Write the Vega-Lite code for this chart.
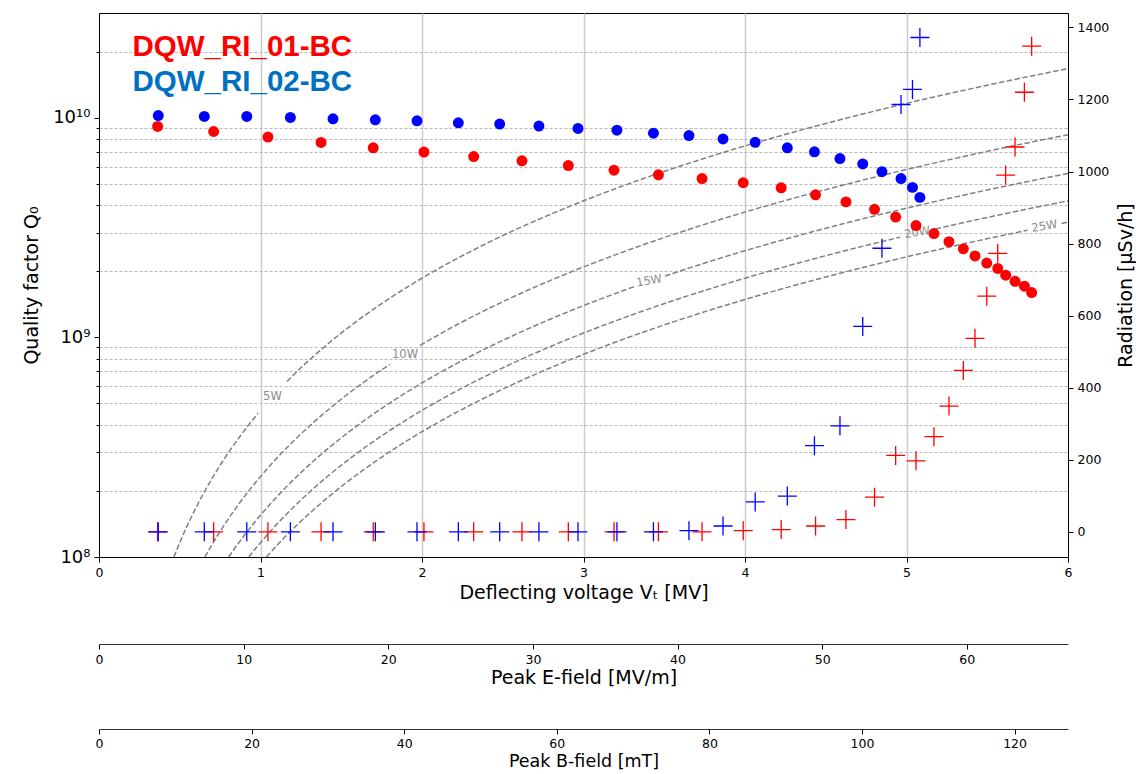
{
  "$schema": "https://vega.github.io/schema/vega-lite/v6.json",
  "width": 969,
  "height": 544,
  "autosize": {"type": "none"},
  "padding": {"left": 99, "top": 13, "right": 68, "bottom": 217},
  "background": "white",
  "config": {
    "view": {"stroke": "#000000", "strokeWidth": 1},
    "font": "DejaVu Sans",
    "axis": {
      "domainColor": "#000000", "tickColor": "#000000", "labelColor": "#000000", "titleColor": "#000000",
      "labelFont": "DejaVu Sans", "titleFont": "DejaVu Sans", "titleFontWeight": "normal",
      "labelFontSize": 12.5, "titleFontSize": 19, "tickSize": 5, "labelPadding": 4, "labelFlush": false
    }
  },
  "datasets": {
    "meas": [
      {"sample": "DQW_RI_01-BC", "V": 0.363, "Q": 9.13e9, "R": 0},
      {"sample": "DQW_RI_01-BC", "V": 0.710, "Q": 8.66e9, "R": 0},
      {"sample": "DQW_RI_01-BC", "V": 1.046, "Q": 8.17e9, "R": 0},
      {"sample": "DQW_RI_01-BC", "V": 1.375, "Q": 7.72e9, "R": 0},
      {"sample": "DQW_RI_01-BC", "V": 1.698, "Q": 7.30e9, "R": 0},
      {"sample": "DQW_RI_01-BC", "V": 2.012, "Q": 6.98e9, "R": 0},
      {"sample": "DQW_RI_01-BC", "V": 2.320, "Q": 6.66e9, "R": 0},
      {"sample": "DQW_RI_01-BC", "V": 2.619, "Q": 6.37e9, "R": 0},
      {"sample": "DQW_RI_01-BC", "V": 2.906, "Q": 6.06e9, "R": 0},
      {"sample": "DQW_RI_01-BC", "V": 3.189, "Q": 5.77e9, "R": 0},
      {"sample": "DQW_RI_01-BC", "V": 3.464, "Q": 5.50e9, "R": 0},
      {"sample": "DQW_RI_01-BC", "V": 3.734, "Q": 5.29e9, "R": 0},
      {"sample": "DQW_RI_01-BC", "V": 3.989, "Q": 5.06e9, "R": 3},
      {"sample": "DQW_RI_01-BC", "V": 4.224, "Q": 4.80e9, "R": 6},
      {"sample": "DQW_RI_01-BC", "V": 4.437, "Q": 4.46e9, "R": 16},
      {"sample": "DQW_RI_01-BC", "V": 4.625, "Q": 4.14e9, "R": 34},
      {"sample": "DQW_RI_01-BC", "V": 4.802, "Q": 3.83e9, "R": 96},
      {"sample": "DQW_RI_01-BC", "V": 4.933, "Q": 3.53e9, "R": 212},
      {"sample": "DQW_RI_01-BC", "V": 5.059, "Q": 3.23e9, "R": 197},
      {"sample": "DQW_RI_01-BC", "V": 5.170, "Q": 2.97e9, "R": 264},
      {"sample": "DQW_RI_01-BC", "V": 5.263, "Q": 2.73e9, "R": 349},
      {"sample": "DQW_RI_01-BC", "V": 5.352, "Q": 2.53e9, "R": 448},
      {"sample": "DQW_RI_01-BC", "V": 5.424, "Q": 2.35e9, "R": 537},
      {"sample": "DQW_RI_01-BC", "V": 5.497, "Q": 2.18e9, "R": 654},
      {"sample": "DQW_RI_01-BC", "V": 5.565, "Q": 2.06e9, "R": 773},
      {"sample": "DQW_RI_01-BC", "V": 5.614, "Q": 1.92e9, "R": 990},
      {"sample": "DQW_RI_01-BC", "V": 5.672, "Q": 1.80e9, "R": 1068},
      {"sample": "DQW_RI_01-BC", "V": 5.730, "Q": 1.71e9, "R": 1220},
      {"sample": "DQW_RI_01-BC", "V": 5.775, "Q": 1.60e9, "R": 1348},
      {"sample": "DQW_RI_02-BC", "V": 0.367, "Q": 1.024e10, "R": 0},
      {"sample": "DQW_RI_02-BC", "V": 0.652, "Q": 1.014e10, "R": 0},
      {"sample": "DQW_RI_02-BC", "V": 0.915, "Q": 1.014e10, "R": 0},
      {"sample": "DQW_RI_02-BC", "V": 1.185, "Q": 1.003e10, "R": 0},
      {"sample": "DQW_RI_02-BC", "V": 1.449, "Q": 9.89e9, "R": 0},
      {"sample": "DQW_RI_02-BC", "V": 1.711, "Q": 9.79e9, "R": 0},
      {"sample": "DQW_RI_02-BC", "V": 1.969, "Q": 9.69e9, "R": 0},
      {"sample": "DQW_RI_02-BC", "V": 2.225, "Q": 9.49e9, "R": 0},
      {"sample": "DQW_RI_02-BC", "V": 2.481, "Q": 9.36e9, "R": 0},
      {"sample": "DQW_RI_02-BC", "V": 2.724, "Q": 9.17e9, "R": 0},
      {"sample": "DQW_RI_02-BC", "V": 2.966, "Q": 8.94e9, "R": 0},
      {"sample": "DQW_RI_02-BC", "V": 3.207, "Q": 8.78e9, "R": 0},
      {"sample": "DQW_RI_02-BC", "V": 3.433, "Q": 8.51e9, "R": 0},
      {"sample": "DQW_RI_02-BC", "V": 3.653, "Q": 8.30e9, "R": 3},
      {"sample": "DQW_RI_02-BC", "V": 3.864, "Q": 8.01e9, "R": 16},
      {"sample": "DQW_RI_02-BC", "V": 4.063, "Q": 7.73e9, "R": 83},
      {"sample": "DQW_RI_02-BC", "V": 4.262, "Q": 7.30e9, "R": 99},
      {"sample": "DQW_RI_02-BC", "V": 4.430, "Q": 7.00e9, "R": 239},
      {"sample": "DQW_RI_02-BC", "V": 4.588, "Q": 6.52e9, "R": 294},
      {"sample": "DQW_RI_02-BC", "V": 4.729, "Q": 6.16e9, "R": 570},
      {"sample": "DQW_RI_02-BC", "V": 4.848, "Q": 5.68e9, "R": 787},
      {"sample": "DQW_RI_02-BC", "V": 4.966, "Q": 5.29e9, "R": 1186},
      {"sample": "DQW_RI_02-BC", "V": 5.037, "Q": 4.82e9, "R": 1228},
      {"sample": "DQW_RI_02-BC", "V": 5.083, "Q": 4.34e9, "R": 1372}
    ],
    "curves": [
      {"P": "5W", "seg": "5W-a", "V": 0.4637, "Q": 1.0e8},
      {"P": "5W", "seg": "5W-a", "V": 0.48, "Q": 1.0716e8},
      {"P": "5W", "seg": "5W-a", "V": 0.5, "Q": 1.1628e8},
      {"P": "5W", "seg": "5W-a", "V": 0.53, "Q": 1.3065e8},
      {"P": "5W", "seg": "5W-a", "V": 0.56, "Q": 1.4586e8},
      {"P": "5W", "seg": "5W-a", "V": 0.6, "Q": 1.6744e8},
      {"P": "5W", "seg": "5W-a", "V": 0.65, "Q": 1.9651e8},
      {"P": "5W", "seg": "5W-a", "V": 0.7, "Q": 2.2791e8},
      {"P": "5W", "seg": "5W-a", "V": 0.75, "Q": 2.6163e8},
      {"P": "5W", "seg": "5W-a", "V": 0.8, "Q": 2.9768e8},
      {"P": "5W", "seg": "5W-a", "V": 0.87, "Q": 3.5205e8},
      {"P": "5W", "seg": "5W-a", "V": 0.93, "Q": 4.0228e8},
      {"P": "5W", "seg": "5W-a", "V": 0.985, "Q": 4.5127e8},
      {"P": "5W", "seg": "5W-b", "V": 1.164, "Q": 6.3019e8},
      {"P": "5W", "seg": "5W-b", "V": 1.25, "Q": 7.2675e8},
      {"P": "5W", "seg": "5W-b", "V": 1.35, "Q": 8.4768e8},
      {"P": "5W", "seg": "5W-b", "V": 1.5, "Q": 1.0465e9},
      {"P": "5W", "seg": "5W-b", "V": 1.7, "Q": 1.3442e9},
      {"P": "5W", "seg": "5W-b", "V": 2.0, "Q": 1.8605e9},
      {"P": "5W", "seg": "5W-b", "V": 2.4, "Q": 2.6791e9},
      {"P": "5W", "seg": "5W-b", "V": 2.8, "Q": 3.6465e9},
      {"P": "5W", "seg": "5W-b", "V": 3.3, "Q": 5.0652e9},
      {"P": "5W", "seg": "5W-b", "V": 3.8, "Q": 6.7163e9},
      {"P": "5W", "seg": "5W-b", "V": 4.4, "Q": 9.0047e9},
      {"P": "5W", "seg": "5W-b", "V": 5.0, "Q": 1.1628e10},
      {"P": "5W", "seg": "5W-b", "V": 5.5, "Q": 1.4070e10},
      {"P": "5W", "seg": "5W-b", "V": 6.0, "Q": 1.6744e10},
      {"P": "10W", "seg": "10W-a", "V": 0.6557, "Q": 1.0e8},
      {"P": "10W", "seg": "10W-a", "V": 0.68, "Q": 1.0754e8},
      {"P": "10W", "seg": "10W-a", "V": 0.71, "Q": 1.1723e8},
      {"P": "10W", "seg": "10W-a", "V": 0.75, "Q": 1.3082e8},
      {"P": "10W", "seg": "10W-a", "V": 0.8, "Q": 1.4884e8},
      {"P": "10W", "seg": "10W-a", "V": 0.86, "Q": 1.72e8},
      {"P": "10W", "seg": "10W-a", "V": 0.93, "Q": 2.0114e8},
      {"P": "10W", "seg": "10W-a", "V": 1.0, "Q": 2.3256e8},
      {"P": "10W", "seg": "10W-a", "V": 1.1, "Q": 2.814e8},
      {"P": "10W", "seg": "10W-a", "V": 1.2, "Q": 3.3489e8},
      {"P": "10W", "seg": "10W-a", "V": 1.32, "Q": 4.0521e8},
      {"P": "10W", "seg": "10W-a", "V": 1.45, "Q": 4.8896e8},
      {"P": "10W", "seg": "10W-a", "V": 1.6, "Q": 5.9535e8},
      {"P": "10W", "seg": "10W-a", "V": 1.8, "Q": 7.5349e8},
      {"P": "10W", "seg": "10W-b", "V": 1.988, "Q": 9.1911e8},
      {"P": "10W", "seg": "10W-b", "V": 2.2, "Q": 1.1256e9},
      {"P": "10W", "seg": "10W-b", "V": 2.5, "Q": 1.4535e9},
      {"P": "10W", "seg": "10W-b", "V": 2.8, "Q": 1.8233e9},
      {"P": "10W", "seg": "10W-b", "V": 3.2, "Q": 2.3814e9},
      {"P": "10W", "seg": "10W-b", "V": 3.6, "Q": 3.014e9},
      {"P": "10W", "seg": "10W-b", "V": 4.0, "Q": 3.721e9},
      {"P": "10W", "seg": "10W-b", "V": 4.5, "Q": 4.7093e9},
      {"P": "10W", "seg": "10W-b", "V": 5.0, "Q": 5.814e9},
      {"P": "10W", "seg": "10W-b", "V": 5.5, "Q": 7.0349e9},
      {"P": "10W", "seg": "10W-b", "V": 6.0, "Q": 8.3722e9},
      {"P": "15W", "seg": "15W-a", "V": 0.8031, "Q": 1.0e8},
      {"P": "15W", "seg": "15W-a", "V": 0.83, "Q": 1.0681e8},
      {"P": "15W", "seg": "15W-a", "V": 0.86, "Q": 1.1467e8},
      {"P": "15W", "seg": "15W-a", "V": 0.9, "Q": 1.2558e8},
      {"P": "15W", "seg": "15W-a", "V": 0.95, "Q": 1.3992e8},
      {"P": "15W", "seg": "15W-a", "V": 1.0, "Q": 1.5504e8},
      {"P": "15W", "seg": "15W-a", "V": 1.07, "Q": 1.7751e8},
      {"P": "15W", "seg": "15W-a", "V": 1.15, "Q": 2.0504e8},
      {"P": "15W", "seg": "15W-a", "V": 1.25, "Q": 2.4225e8},
      {"P": "15W", "seg": "15W-a", "V": 1.37, "Q": 2.9099e8},
      {"P": "15W", "seg": "15W-a", "V": 1.5, "Q": 3.4884e8},
      {"P": "15W", "seg": "15W-a", "V": 1.7, "Q": 4.4807e8},
      {"P": "15W", "seg": "15W-a", "V": 1.9, "Q": 5.5969e8},
      {"P": "15W", "seg": "15W-a", "V": 2.15, "Q": 7.1667e8},
      {"P": "15W", "seg": "15W-a", "V": 2.45, "Q": 9.3063e8},
      {"P": "15W", "seg": "15W-a", "V": 2.8, "Q": 1.2155e9},
      {"P": "15W", "seg": "15W-a", "V": 3.1, "Q": 1.4899e9},
      {"P": "15W", "seg": "15W-a", "V": 3.319, "Q": 1.7079e9},
      {"P": "15W", "seg": "15W-b", "V": 3.505, "Q": 1.9047e9},
      {"P": "15W", "seg": "15W-b", "V": 3.8, "Q": 2.2388e9},
      {"P": "15W", "seg": "15W-b", "V": 4.2, "Q": 2.7349e9},
      {"P": "15W", "seg": "15W-b", "V": 4.6, "Q": 3.2807e9},
      {"P": "15W", "seg": "15W-b", "V": 5.0, "Q": 3.876e9},
      {"P": "15W", "seg": "15W-b", "V": 5.5, "Q": 4.69e9},
      {"P": "15W", "seg": "15W-b", "V": 6.0, "Q": 5.5814e9},
      {"P": "20W", "seg": "20W-a", "V": 0.9274, "Q": 1.0e8},
      {"P": "20W", "seg": "20W-a", "V": 0.95, "Q": 1.0494e8},
      {"P": "20W", "seg": "20W-a", "V": 0.98, "Q": 1.1168e8},
      {"P": "20W", "seg": "20W-a", "V": 1.02, "Q": 1.2098e8},
      {"P": "20W", "seg": "20W-a", "V": 1.07, "Q": 1.3313e8},
      {"P": "20W", "seg": "20W-a", "V": 1.13, "Q": 1.4848e8},
      {"P": "20W", "seg": "20W-a", "V": 1.2, "Q": 1.6744e8},
      {"P": "20W", "seg": "20W-a", "V": 1.3, "Q": 1.9651e8},
      {"P": "20W", "seg": "20W-a", "V": 1.42, "Q": 2.3447e8},
      {"P": "20W", "seg": "20W-a", "V": 1.55, "Q": 2.7936e8},
      {"P": "20W", "seg": "20W-a", "V": 1.7, "Q": 3.3605e8},
      {"P": "20W", "seg": "20W-a", "V": 1.9, "Q": 4.1977e8},
      {"P": "20W", "seg": "20W-a", "V": 2.15, "Q": 5.375e8},
      {"P": "20W", "seg": "20W-a", "V": 2.45, "Q": 6.9797e8},
      {"P": "20W", "seg": "20W-a", "V": 2.8, "Q": 9.1164e8},
      {"P": "20W", "seg": "20W-a", "V": 3.2, "Q": 1.1907e9},
      {"P": "20W", "seg": "20W-a", "V": 3.6, "Q": 1.507e9},
      {"P": "20W", "seg": "20W-a", "V": 4.0, "Q": 1.8605e9},
      {"P": "20W", "seg": "20W-a", "V": 4.45, "Q": 2.3026e9},
      {"P": "20W", "seg": "20W-a", "V": 4.96, "Q": 2.8607e9},
      {"P": "20W", "seg": "20W-b", "V": 5.18, "Q": 3.1201e9},
      {"P": "20W", "seg": "20W-b", "V": 5.5, "Q": 3.5175e9},
      {"P": "20W", "seg": "20W-b", "V": 6.0, "Q": 4.1861e9},
      {"P": "25W", "seg": "25W-a", "V": 1.0368, "Q": 1.0e8},
      {"P": "25W", "seg": "25W-a", "V": 1.06, "Q": 1.0452e8},
      {"P": "25W", "seg": "25W-a", "V": 1.09, "Q": 1.1052e8},
      {"P": "25W", "seg": "25W-a", "V": 1.13, "Q": 1.1878e8},
      {"P": "25W", "seg": "25W-a", "V": 1.18, "Q": 1.2953e8},
      {"P": "25W", "seg": "25W-a", "V": 1.24, "Q": 1.4303e8},
      {"P": "25W", "seg": "25W-a", "V": 1.32, "Q": 1.6209e8},
      {"P": "25W", "seg": "25W-a", "V": 1.42, "Q": 1.8757e8},
      {"P": "25W", "seg": "25W-a", "V": 1.55, "Q": 2.2349e8},
      {"P": "25W", "seg": "25W-a", "V": 1.7, "Q": 2.6884e8},
      {"P": "25W", "seg": "25W-a", "V": 1.9, "Q": 3.3582e8},
      {"P": "25W", "seg": "25W-a", "V": 2.15, "Q": 4.3e8},
      {"P": "25W", "seg": "25W-a", "V": 2.45, "Q": 5.5838e8},
      {"P": "25W", "seg": "25W-a", "V": 2.8, "Q": 7.2931e8},
      {"P": "25W", "seg": "25W-a", "V": 3.2, "Q": 9.5257e8},
      {"P": "25W", "seg": "25W-a", "V": 3.6, "Q": 1.2056e9},
      {"P": "25W", "seg": "25W-a", "V": 4.0, "Q": 1.4884e9},
      {"P": "25W", "seg": "25W-a", "V": 4.5, "Q": 1.8837e9},
      {"P": "25W", "seg": "25W-a", "V": 5.0, "Q": 2.3256e9},
      {"P": "25W", "seg": "25W-a", "V": 5.4, "Q": 2.7126e9},
      {"P": "25W", "seg": "25W-a", "V": 5.75, "Q": 3.0756e9},
      {"P": "25W", "seg": "25W-b", "V": 5.96, "Q": 3.3044e9},
      {"P": "25W", "seg": "25W-b", "V": 6.0, "Q": 3.3489e9}
    ],
    "clabels": [
      {"P": "5W", "V": 1.074, "Q": 5.365e8},
      {"P": "10W", "V": 1.895, "Q": 8.351e8},
      {"P": "15W", "V": 3.407, "Q": 1.7997e9},
      {"P": "20W", "V": 5.067, "Q": 2.9855e9},
      {"P": "25W", "V": 5.855, "Q": 3.189e9}
    ],
    "ef": [{"E": 0}, {"E": 67}],
    "bf": [{"B": 0}, {"B": 127}]
  },
  "resolve": {"scale": {"x": "independent", "y": "independent"}},
  "layer": [
    {
      "encoding": {
        "x": {
          "field": "V", "type": "quantitative", "title": "Deflecting voltage Vₜ [MV]",
          "scale": {"domain": [0, 6], "nice": false, "zero": false},
          "axis": {
            "values": [0, 1, 2, 3, 4, 5, 6], "grid": true, "gridColor": "#cccccc", "gridWidth": 1.5,
            "gridOpacity": {"condition": {"test": "datum.value == 0 || datum.value == 6", "value": 0}, "value": 1},
            "titlePadding": 5
          }
        }
      },
      "resolve": {"scale": {"y": "independent"}},
      "layer": [
        {
          "encoding": {
            "y": {
              "field": "Q", "type": "quantitative", "title": "Quality factor Q₀",
              "scale": {"type": "log", "domain": [1e8, 3e10], "nice": false},
              "axis": {
                "values": [1e8, 2e8, 3e8, 4e8, 5e8, 6e8, 7e8, 8e8, 9e8, 1e9, 2e9, 3e9, 4e9, 5e9, 6e9, 7e9, 8e9, 9e9, 1e10, 2e10],
                "labelExpr": "datum.value == 1e8 ? '10⁸' : datum.value == 1e9 ? '10⁹' : datum.value == 1e10 ? '10¹⁰' : ''",
                "labelFontSize": 18, "labelOverlap": false,
                "grid": true, "gridDash": [3, 2], "gridColor": "#b8b8b8", "gridWidth": 1,
                "gridOpacity": {"condition": {"test": "datum.value == 1e8 || datum.value == 1e9 || datum.value == 1e10", "value": 0}, "value": 1},
                "tickSize": {"condition": {"test": "datum.value == 1e8 || datum.value == 1e9 || datum.value == 1e10", "value": 5}, "value": 3},
                "titlePadding": 11
              }
            }
          },
          "layer": [
            {
              "data": {"name": "curves"},
              "mark": {"type": "line", "color": "#808080", "strokeWidth": 1.5, "strokeDash": [5.5, 2.4], "interpolate": "monotone", "clip": true},
              "encoding": {"detail": {"field": "seg", "type": "nominal"}}
            },
            {
              "data": {"name": "clabels"},
              "transform": [{"filter": "datum.P == '5W' || datum.P == '10W'"}],
              "mark": {"type": "text", "fontSize": 11.5, "color": "#8c8c8c", "align": "center", "baseline": "middle", "angle": 0},
              "encoding": {"text": {"field": "P"}}
            },
            {
              "data": {"name": "clabels"},
              "transform": [{"filter": "datum.P != '5W' && datum.P != '10W'"}],
              "mark": {"type": "text", "fontSize": 11.5, "color": "#8c8c8c", "align": "center", "baseline": "middle", "angle": 350},
              "encoding": {"text": {"field": "P"}}
            },
            {
              "data": {"name": "meas"},
              "mark": {"type": "circle", "size": 120, "opacity": 1},
              "encoding": {
                "color": {
                  "field": "sample", "type": "nominal",
                  "scale": {"domain": ["DQW_RI_01-BC", "DQW_RI_02-BC"], "range": ["#ff0000", "#0000ff"]},
                  "legend": {
                    "orient": "top-left", "offset": 19, "title": null, "padding": 0,
                    "symbolOpacity": 0, "symbolSize": 0, "symbolStrokeWidth": 0,
                    "labelFont": "Liberation Sans", "labelFontWeight": "bold", "labelFontSize": 29.5,
                    "labelLimit": 500, "labelOffset": -15, "rowPadding": 4,
                    "encode": {"labels": {"update": {"fill": {"signal": "datum.label === 'DQW_RI_01-BC' ? '#ff0000' : '#0070c0'"}}}}
                  }
                }
              }
            }
          ]
        },
        {
          "data": {"name": "meas"},
          "mark": {"type": "point", "shape": "M-1,0L1,0M0,-1L0,1", "filled": false, "size": 361, "strokeWidth": 1.3, "opacity": 1},
          "encoding": {
            "y": {
              "field": "R", "type": "quantitative", "title": "Radiation [μSv/h]",
              "scale": {"domain": [-70, 1440], "nice": false, "zero": false},
              "axis": {"orient": "right", "values": [0, 200, 400, 600, 800, 1000, 1200, 1400], "format": "d", "grid": false, "titleAngle": 270, "titleBaseline": "top", "titlePadding": 8}
            },
            "color": {"field": "sample", "type": "nominal", "legend": null}
          }
        }
      ]
    },
    {
      "data": {"name": "ef"},
      "mark": {"type": "rule", "opacity": 0},
      "encoding": {
        "x": {
          "field": "E", "type": "quantitative", "title": "Peak E-field [MV/m]",
          "scale": {"domain": [0, 67], "nice": false, "zero": false},
          "axis": {"orient": "bottom", "offset": 87, "values": [0, 10, 20, 30, 40, 50, 60], "grid": false, "domainColor": "#333333", "titlePadding": 3}
        }
      }
    },
    {
      "data": {"name": "bf"},
      "mark": {"type": "rule", "opacity": 0},
      "encoding": {
        "x": {
          "field": "B", "type": "quantitative", "title": "Peak B-field [mT]",
          "scale": {"domain": [0, 127], "nice": false, "zero": false},
          "axis": {"orient": "bottom", "offset": 172, "values": [0, 20, 40, 60, 80, 100, 120], "grid": false, "domainColor": "#333333", "labelPadding": 3, "titlePadding": 3, "titleFontSize": 17.5}
        }
      }
    }
  ]
}
